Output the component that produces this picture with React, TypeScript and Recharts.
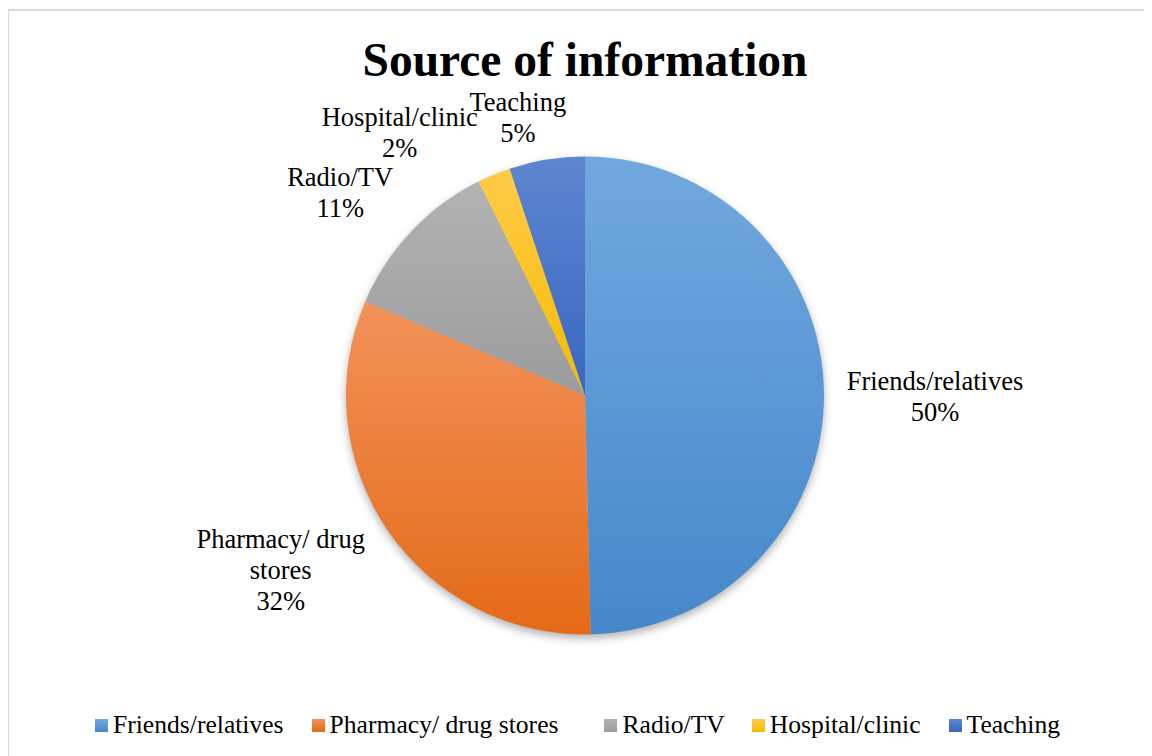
import React from 'react';
import { PieChart, Pie, Cell, Legend } from 'recharts';

const categories = ['Friends/relatives', 'Pharmacy/ drug stores', 'Radio/TV', 'Hospital/clinic', 'Teaching'];
const shares = [49.6, 31.8, 11.2, 2.25, 5.1];
const chartTitle = 'Source of information';

const data = categories.map((name, i) => ({ name, value: shares[i] }));

const GRADIENTS: [string, string][] = [
  ['#72A8DF', '#4588CA'],
  ['#F3925A', '#E36A17'],
  ['#B3B3B3', '#9B9B9B'],
  ['#FFCA4A', '#F5BC00'],
  ['#5E86D0', '#3966BF'],
];

// label placement tweaks (angle shift in degrees clockwise, extra radius beyond the pie)
const LABEL_LAYOUT = [
  { shift: 0.9, extra: 111 },
  { shift: 4.2, extra: 112 },
  { shift: -3.7, extra: 79 },
  { shift: -12.7, extra: 83 },
  { shift: -4.4, extra: 47 },
];
const LEGEND_GAPS = [0, 28, 46, 27, 28];

const FONT = '"Liberation Serif", "Times New Roman", serif';
const RAD = Math.PI / 180;

function wrapName(name: string): string[] {
  if (name.length > 15 && name.includes(' ')) {
    const idx = name.lastIndexOf(' ');
    return [name.slice(0, idx), name.slice(idx + 1)];
  }
  return [name];
}

function renderLabel(props: any) {
  const { cx, cy, midAngle, outerRadius, index, percent } = props;
  const name = props.name ?? props.payload?.name ?? categories[index];
  const lay = LABEL_LAYOUT[index] || { shift: 0, extra: 60 };
  const ang = (midAngle - lay.shift) * RAD;
  const r = outerRadius + lay.extra;
  const x = cx + r * Math.cos(ang);
  const y = cy - r * Math.sin(ang);
  const lines = wrapName(name).concat(`${Math.round(percent * 100)}%`);
  const L = 31;
  const y0 = y - ((lines.length - 1) * L) / 2;
  return (
    <g>
      {lines.map((t, k) => (
        <text
          key={k}
          x={x}
          y={y0 + k * L + 9}
          textAnchor="middle"
          fontFamily={FONT}
          fontSize={26.5}
          fill="#000"
        >
          {t}
        </text>
      ))}
    </g>
  );
}

function LegendContent() {
  return (
    <div style={{ display: 'flex', alignItems: 'center', fontFamily: FONT, fontSize: 25.6, color: '#000', whiteSpace: 'nowrap', lineHeight: '30px' }}>
      {categories.map((c, i) => (
        <div key={c} style={{ display: 'flex', alignItems: 'center', marginLeft: LEGEND_GAPS[i] }}>
          <span style={{ display: 'inline-block', width: 13, height: 13, background: `linear-gradient(${GRADIENTS[i][0]}, ${GRADIENTS[i][1]})`, marginRight: 5 }} />
          <span>{c}</span>
        </div>
      ))}
    </div>
  );
}

export default function App() {
  return (
    <div style={{ position: 'relative', width: 1144, height: 748 }}>
      <style>{'html,body{overflow:hidden}'}</style>
      <svg width={0} height={0} style={{ position: 'absolute' }}>
        <defs>
          {GRADIENTS.map((g, i) => (
            <linearGradient key={i} id={`grad${i}`} x1="0" y1="0" x2="0" y2="1">
              <stop offset="0%" stopColor={g[0]} />
              <stop offset="100%" stopColor={g[1]} />
            </linearGradient>
          ))}
          <filter id="pieShadow" x="-20%" y="-20%" width="140%" height="140%">
            <feGaussianBlur stdDeviation="4" />
          </filter>
        </defs>
      </svg>
      <div
        style={{
          position: 'absolute',
          left: -1,
          top: 1,
          width: 1200,
          height: 800,
          border: '2px solid #d9d9d9',
          boxSizing: 'border-box',
        }}
      />
      <div
        style={{
          position: 'absolute',
          left: 0,
          top: 28,
          width: 1154,
          textAlign: 'center',
          fontFamily: FONT,
          fontWeight: 'bold',
          fontSize: 47.5,
          lineHeight: '48px',
          color: '#000',
        }}
      >
        {chartTitle}
      </div>
      <div style={{ position: 'absolute', left: 0, top: 0 }}>
        <PieChart width={1144} height={748} margin={{ top: 0, right: 0, bottom: 0, left: 0 }}>
          <Pie
            data={data}
            dataKey="value"
            nameKey="name"
            cx={577}
            cy={391.5}
            outerRadius={239}
            startAngle={90}
            endAngle={-270}
            stroke="none"
            isAnimationActive={false}
            legendType="none"
          >
            {data.map((d, i) => (
              <Cell key={d.name} fill="#000" fillOpacity={0.3} filter="url(#pieShadow)" />
            ))}
          </Pie>
          <Pie
            data={data}
            dataKey="value"
            nameKey="name"
            cx={577}
            cy={387.5}
            outerRadius={239}
            startAngle={90}
            endAngle={-270}
            stroke="none"
            isAnimationActive={false}
            label={renderLabel}
            labelLine={false}
          >
            {data.map((d, i) => (
              <Cell key={d.name} fill={`url(#grad${i})`} />
            ))}
          </Pie>
          <Legend
            content={() => <LegendContent />}
            wrapperStyle={{ position: 'absolute', left: 87, top: 702, width: 'auto', height: 30 }}
          />
        </PieChart>
      </div>
    </div>
  );
}
